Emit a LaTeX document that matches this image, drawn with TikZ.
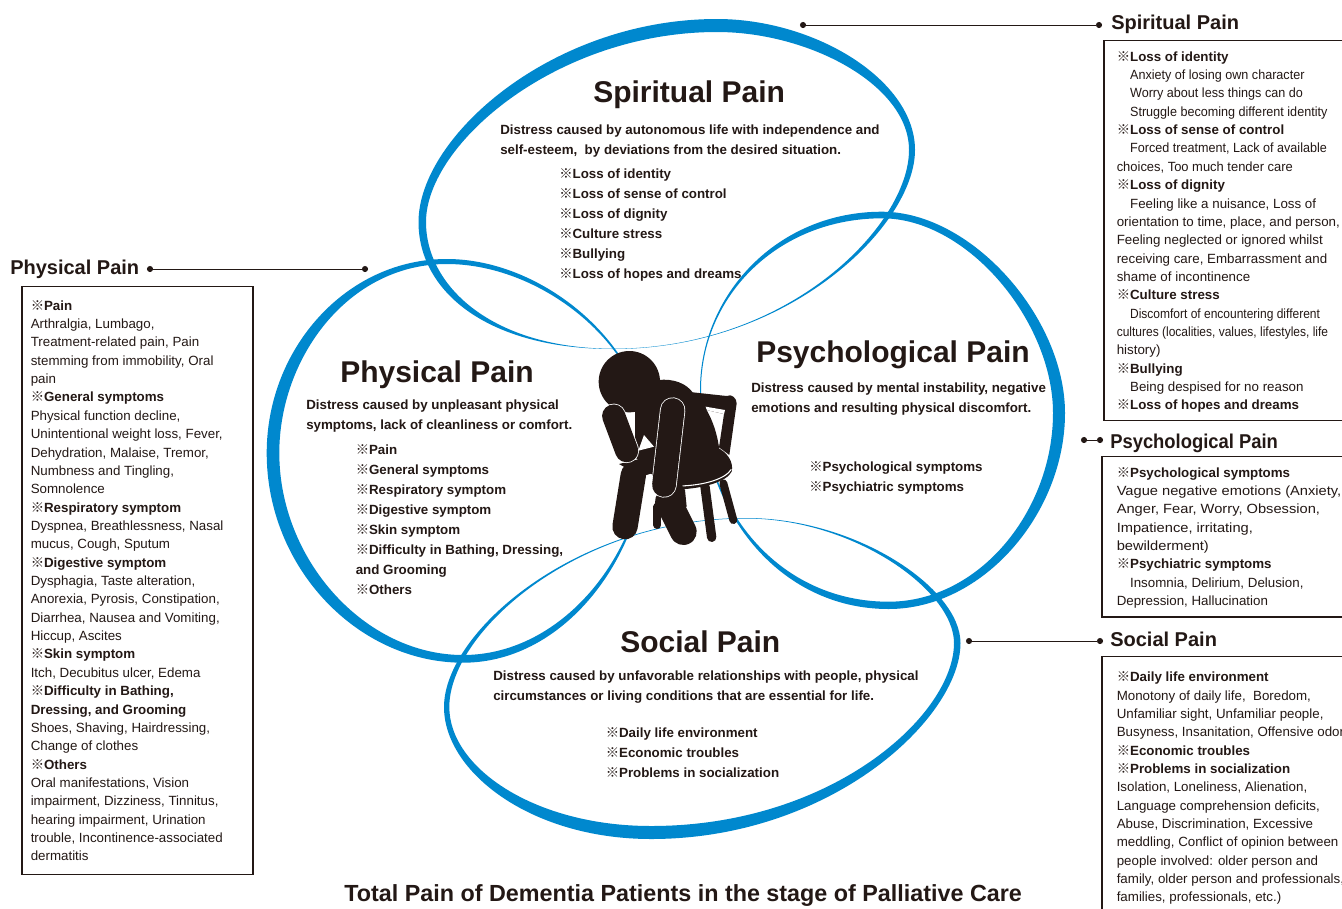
\documentclass[tikz,border=0pt]{standalone}
\usepackage{fontspec}
\setmainfont{Liberation Sans}
\newfontfamily\cjkf{Noto Sans CJK JP}
\newcommand{\rf}{{\cjkf\fontsize{10}{13.7}\selectfont ※}}
\newcommand{\ind}{\hspace*{10pt}}
\newcommand{\hs}[2]{\scalebox{#1}[1]{#2}}
\definecolor{ink}{HTML}{231815}
\definecolor{ringblue}{HTML}{0088CE}
\tikzset{
  ring/.style={fill=ringblue,even odd rule},
  panel/.style={draw=ink,line width=1.4pt,anchor=north west,inner sep=0pt},
  paneltext/.style={anchor=north west,inner sep=0pt,align=left,text=ink,font=\fontsize{10}{13.77}\selectfont},
  listtext/.style={anchor=north west,inner sep=0pt,align=left,text=ink,font=\bfseries\fontsize{10}{15}\selectfont},
  desc/.style={anchor=north west,inner sep=0pt,align=left,text=ink,font=\bfseries\fontsize{10}{15}\selectfont},
  bigtitle/.style={anchor=base west,inner sep=0pt,text=ink,font=\bfseries\fontsize{22.5}{26}\selectfont},
  sidetitle/.style={anchor=base west,inner sep=0pt,text=ink,font=\bfseries\fontsize{15}{18}\selectfont},
  dotmark/.style={circle,fill=ink,inner sep=0pt,minimum size=4.6pt},
  leader/.style={draw=ink,line width=0.7pt},
  blk/.style={fill=ink,draw=none},
  capsule/.style={draw=ink,line cap=round},
  halo/.style={draw=white,line cap=round},
}
\begin{document}
\begin{tikzpicture}[x=0.75pt,y=-0.75pt]
\useasboundingbox (0,0) rectangle (1342,908);
\fill[white] (0,0) rectangle (1342,908);
% spiritual ring
\fill[ring] (418.5,222) .. controls (418.5,137) and (552,19) .. (717,19)
  .. controls (815,19) and (915,80) .. (915,150)
  .. controls (915,225) and (790,349) .. (613,349)
  .. controls (488,349) and (418.5,292) .. (418.5,222) -- cycle
  (426,222) .. controls (426,144) and (557,32) .. (717,32)
  .. controls (809,32) and (909,85) .. (909,150)
  .. controls (909,225) and (789,348.7) .. (613,348.7)
  .. controls (495,348.7) and (426,288) .. (426,222) -- cycle;
% physical ring
\fill[ring] (266.7,453) .. controls (266.7,348) and (346.7,259) .. (446.7,259)
  .. controls (546.7,259) and (648,350) .. (648,440)
  .. controls (648,550) and (568,662.7) .. (463,662.7)
  .. controls (358,662.7) and (266.7,568) .. (266.7,453) -- cycle
  (279.3,453) .. controls (279.3,358) and (348,264) .. (446.7,264)
  .. controls (545,264) and (647,350) .. (647,440)
  .. controls (647,549) and (565,655) .. (463,655)
  .. controls (365,655) and (279.3,560) .. (279.3,453) -- cycle;
% psychological ring
\fill[ring] (700,390) .. controls (700,295) and (777,211.7) .. (882,211.7)
  .. controls (972,211.7) and (1065,318) .. (1065,413)
  .. controls (1065,513) and (983.5,609) .. (888.5,609)
  .. controls (778.5,609) and (700,510) .. (700,390) -- cycle
  (701,390) .. controls (701,296) and (778,218.3) .. (882,218.3)
  .. controls (968,218.3) and (1053,322) .. (1053,413)
  .. controls (1053,510) and (980,601.7) .. (888.5,601.7)
  .. controls (780,601.7) and (701,510) .. (701,390) -- cycle;
% social ring
\fill[ring] (444,707) .. controls (444,632) and (576,518) .. (746,518)
  .. controls (856,518) and (960.5,588) .. (960.5,643)
  .. controls (960.5,718) and (831,839) .. (651,839)
  .. controls (531,839) and (444,772) .. (444,707) -- cycle
  (449.3,707) .. controls (449.3,632) and (577,518.5) .. (746,518.5)
  .. controls (853,518.5) and (954,590) .. (954,643)
  .. controls (954,715) and (832,826) .. (651,826)
  .. controls (535,826) and (449.3,768) .. (449.3,707) -- cycle;
% person
\begin{scope}[shift={(570,330)},x=0.25pt,y=-0.25pt]
  % chair legs
  \draw[capsule,line width=7pt] (405,470) -- (425,622);
  \draw[capsule,line width=6pt] (460,460) -- (490,570);
  % chair back
  \fill[blk] (350,185) -- (470,198) .. controls (485,190) and (500,205) .. (500,220) -- (478,375) -- (447,352) -- (462,252) -- (410,240) -- (380,240) -- cycle;
  \fill[white] (407,230) -- (465,240) -- (462,252) -- (410,240) -- cycle;
  % seat
  \fill[blk] (320,470) -- (440,352) .. controls (470,365) and (492,395) .. (485,425) .. controls (470,455) and (400,475) .. (330,478) -- cycle;
  \draw[white,line width=0.8pt] (330,468) .. controls (400,466) and (465,448) .. (484,418);
  % torso
  \fill[blk] (195,240) -- (265,150) .. controls (310,145) and (350,160) .. (370,190) .. controls (410,225) and (440,290) .. (448,360) -- (450,410) -- (330,470) -- (240,430) -- (195,380) -- cycle;
  % legs
  \draw[capsule,line width=19pt] (190,435) -- (165,590);
  \fill[blk] (147,402) -- (270,372) -- (345,480) -- (350,530) -- (290,550) -- (245,430) -- (215,440) -- cycle;
  \draw[capsule,line width=20pt] (295,515) -- (340,605);
  \draw[capsule,line width=6pt] (262,530) -- (262,585);
  % white gap
  \fill[white] (205,362) -- (222,315) -- (252,350) -- cycle;
  % head
  \fill[blk] (178,155) circle [radius=92];
  % arms
  \draw[halo,line width=18.6pt] (131,258) -- (170,362);
  \draw[capsule,line width=17.4pt] (131,258) -- (170,362);
  \draw[halo,line width=19pt] (308,240) -- (282,465);
  \draw[capsule,line width=17.8pt] (308,240) -- (282,465);
\end{scope}
% spiritual centre
\node[bigtitle] (tspi) at (593,102) {Spiritual Pain};
\node[desc] (dspi) at (500,124.5) {Distress caused by autonomous life with independence and\\self-esteem,~ by deviations from the desired situation.};
\node[listtext] (lspi) at (559,168.5) {\rf Loss of identity\\\rf Loss of sense of control\\\rf Loss of dignity\\\rf Culture stress\\\rf Bullying\\\rf Loss of hopes and dreams};
% physical centre
\node[bigtitle] (tphy) at (340,382) {Physical Pain};
\node[desc] (dphy) at (306,400) {Distress caused by unpleasant physical\\symptoms, lack of cleanliness or comfort.};
\node[listtext] (lphy) at (355.5,444) {\hspace*{0pt}\rf Pain\\\rf General symptoms\\\rf Respiratory symptom\\\rf Digestive symptom\\\rf Skin symptom\\\rf Difficulty in Bathing, Dressing,\\and Grooming\\\rf Others};
% psychological centre
\node[bigtitle] (tpsy) at (756,362) {Psychological Pain};
\node[desc] (dpsy) at (751,383) {Distress caused by mental instability, negative\\emotions and resulting physical discomfort.};
\node[listtext] (lpsy) at (809,461) {\rf Psychological symptoms\\\rf Psychiatric symptoms};
% social centre
\node[bigtitle] (tsoc) at (620,652) {Social Pain};
\node[desc] (dsoc) at (493,671) {Distress caused by unfavorable relationships with people, physical\\circumstances or living conditions that are essential for life.};
\node[listtext] (lsoc) at (605.5,727) {\rf Daily life environment\\\rf Economic troubles\\\rf Problems in socialization};
% side titles
\node[sidetitle] (sphy) at (10,274) {Physical Pain};
\node[sidetitle] (sspi) at (1111,29) {Spiritual Pain};
\node[sidetitle] (spsy) at (1110,448) {\hs{.92}{Psychological Pain}};
\node[sidetitle] (ssoc) at (1110,646) {Social Pain};
% leaders
\node[dotmark] (a1) at (150,269) {};
\node[dotmark] (a2) at (365,269) {};
\draw[leader] (a1) -- (a2);
\node[dotmark] (b1) at (803,25) {};
\node[dotmark] (b2) at (1099,25) {};
\draw[leader] (b1) -- (b2);
\node[dotmark] (c1) at (1084,440) {};
\node[dotmark] (c2) at (1100,440) {};
\draw[leader] (c1) -- (c2);
\node[dotmark] (d1) at (969,641) {};
\node[dotmark] (d2) at (1100,641) {};
\draw[leader] (d1) -- (d2);
% panels
\node[panel,minimum width=173.4pt,minimum height=441pt] (pphy) at (21,285.5) {};
\node[panel,minimum width=190pt,minimum height=285pt] (pspi) at (1103,39.5) {};
\node[panel,minimum width=190pt,minimum height=120.5pt] (ppsy) at (1101,455.5) {};
\node[panel,minimum width=190pt,minimum height=230pt] (psoc) at (1101,655.5) {};
\node[paneltext] (xphy) at (30.5,300) {\rf\textbf{Pain}\\Arthralgia, Lumbago,\\Treatment-related pain, Pain\\stemming from immobility, Oral\\pain\\\rf\textbf{General symptoms}\\Physical function decline,\\Unintentional weight loss, Fever,\\Dehydration, Malaise, Tremor,\\Numbness and Tingling,\\Somnolence\\\rf\textbf{Respiratory symptom}\\Dyspnea, Breathlessness, Nasal\\mucus, Cough, Sputum\\\rf\textbf{Digestive symptom}\\Dysphagia, Taste alteration,\\Anorexia, Pyrosis, Constipation,\\Diarrhea, Nausea and Vomiting,\\Hiccup, Ascites\\\rf\textbf{Skin symptom}\\Itch, Decubitus ulcer, Edema\\\rf\textbf{Difficulty in Bathing,}\\\textbf{Dressing, and Grooming}\\Shoes, Shaving, Hairdressing,\\Change of clothes\\\rf\textbf{Others}\\Oral manifestations, Vision\\impairment, Dizziness, Tinnitus,\\hearing impairment, Urination\\trouble, Incontinence-associated\\dermatitis};
\node[paneltext] (xspi) at (1116.5,51) {\rf\textbf{Loss of identity}\\\ind\hs{.945}{Anxiety of losing own character}\\\ind\hs{.945}{Worry about less things can do}\\\ind\hs{.945}{Struggle becoming different identity}\\\rf\textbf{Loss of sense of control}\\\ind\hs{.945}{Forced treatment, Lack of available}\\\hs{.97}{choices, Too much tender care}\\\rf\textbf{Loss of dignity}\\\ind Feeling like a nuisance, Loss of\\orientation to time, place, and person,\\Feeling neglected or ignored whilst\\receiving care, Embarrassment and\\shame of incontinence\\\rf\textbf{Culture stress}\\\ind\hs{.9}{Discomfort of encountering different}\\\hs{.9}{cultures (localities, values, lifestyles, life}\\history)\\\rf\textbf{Bullying}\\\ind Being despised for no reason\\\rf\textbf{Loss of hopes and dreams}};
\node[paneltext] (xpsy) at (1116.5,467) {\rf\textbf{Psychological symptoms}\\\hs{1.1}{Vague negative emotions (Anxiety,}\\\hs{1.1}{Anger, Fear, Worry, Obsession,}\\\hs{1.1}{Impatience, irritating,}\\\hs{1.1}{bewilderment)}\\\rf\textbf{Psychiatric symptoms}\\\ind Insomnia, Delirium, Delusion,\\Depression, Hallucination};
\node[paneltext] (xsoc) at (1116.5,671.5) {\rf\textbf{Daily life environment}\\Monotony of daily life,~ Boredom,\\Unfamiliar sight, Unfamiliar people,\\Busyness, Insanitation, Offensive odor\\\rf\textbf{Economic troubles}\\\rf\textbf{Problems in socialization}\\Isolation, Loneliness, Alienation,\\Language comprehension deficits,\\Abuse, Discrimination, Excessive\\meddling, Conflict of opinion between\\people involved: older person and\\family, older person and professionals,\\families, professionals, etc.)};
% caption
\node[anchor=base west,inner sep=0pt,text=ink,font=\bfseries\fontsize{17.5}{20}\selectfont] (cap) at (344,901) {Total Pain of Dementia Patients in the stage of Palliative Care};
\end{tikzpicture}
\end{document}
